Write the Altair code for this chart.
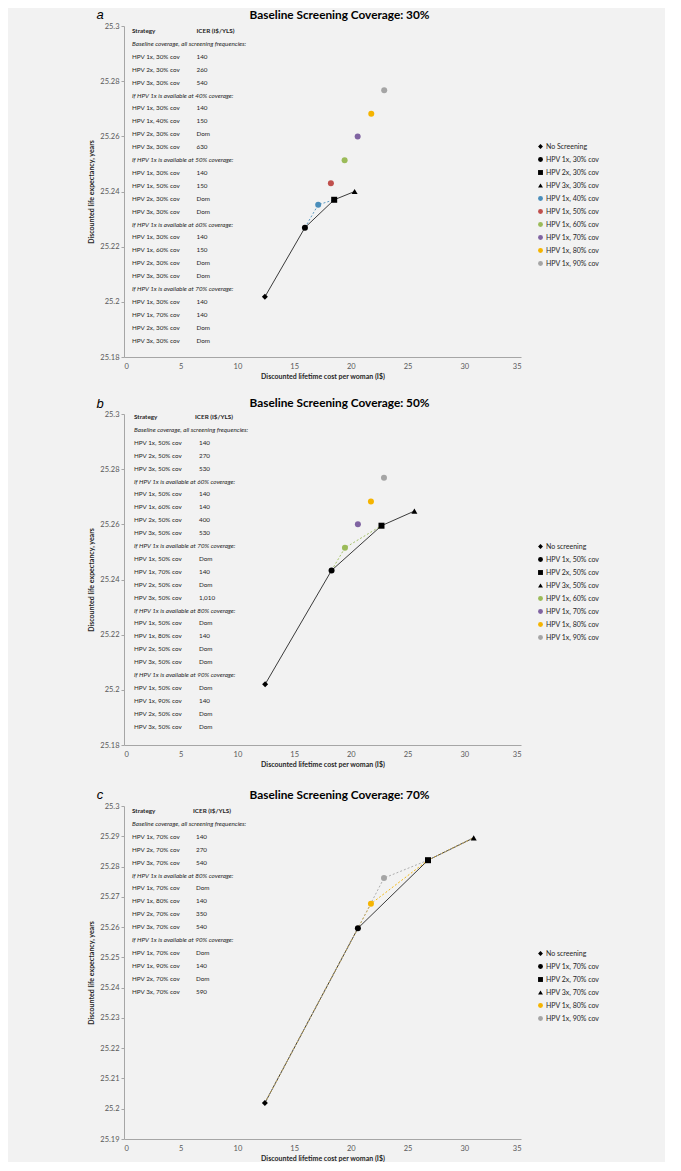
import altair as alt
import pandas as pd

FONT = "Lato"

# ---------------- Panel a: baseline coverage 30% ----------------
a_strat = ["No Screening", "HPV 1x, 30% cov", "HPV 2x, 30% cov", "HPV 3x, 30% cov",
           "HPV 1x, 40% cov", "HPV 1x, 50% cov", "HPV 1x, 60% cov", "HPV 1x, 70% cov",
           "HPV 1x, 80% cov", "HPV 1x, 90% cov"]
a_cost = [12.42, 15.95, 18.53, 20.33, 17.12, 18.24, 19.45, 20.60, 21.80, 22.94]
a_le = [25.2018, 25.2269, 25.2370, 25.2400, 25.2352, 25.2430, 25.2513, 25.2599, 25.2682, 25.2767]
a_table = [
    ("Baseline coverage, all screening frequencies:",
     [("HPV 1x, 30% cov", "140"), ("HPV 2x, 30% cov", "260"), ("HPV 3x, 30% cov", "540")]),
    ("If HPV 1x is available at 40% coverage:",
     [("HPV 1x, 30% cov", "140"), ("HPV 1x, 40% cov", "150"), ("HPV 2x, 30% cov", "Dom"), ("HPV 3x, 30% cov", "630")]),
    ("If HPV 1x is available at 50% coverage:",
     [("HPV 1x, 30% cov", "140"), ("HPV 1x, 50% cov", "150"), ("HPV 2x, 30% cov", "Dom"), ("HPV 3x, 30% cov", "Dom")]),
    ("If HPV 1x is available at 60% coverage:",
     [("HPV 1x, 30% cov", "140"), ("HPV 1x, 60% cov", "150"), ("HPV 2x, 30% cov", "Dom"), ("HPV 3x, 30% cov", "Dom")]),
    ("If HPV 1x is available at 70% coverage:",
     [("HPV 1x, 30% cov", "140"), ("HPV 1x, 70% cov", "140"), ("HPV 2x, 30% cov", "Dom"), ("HPV 3x, 30% cov", "Dom")]),
]
a_frontier = ["No Screening", "HPV 1x, 30% cov", "HPV 2x, 30% cov", "HPV 3x, 30% cov"]
a_alt = ["HPV 1x, 30% cov", "HPV 1x, 40% cov", "HPV 2x, 30% cov"]

# ---------------- Panel b: baseline coverage 50% ----------------
b_strat = ["No screening", "HPV 1x, 50% cov", "HPV 2x, 50% cov", "HPV 3x, 50% cov",
           "HPV 1x, 60% cov", "HPV 1x, 70% cov", "HPV 1x, 80% cov", "HPV 1x, 90% cov"]
b_cost = [12.44, 18.30, 22.70, 25.60, 19.48, 20.62, 21.77, 22.92]
b_le = [25.2020, 25.2433, 25.2595, 25.2648, 25.2515, 25.2600, 25.2683, 25.2769]
b_table = [
    ("Baseline coverage, all screening frequencies:",
     [("HPV 1x, 50% cov", "140"), ("HPV 2x, 50% cov", "270"), ("HPV 3x, 50% cov", "530")]),
    ("If HPV 1x is available at 60% coverage:",
     [("HPV 1x, 50% cov", "140"), ("HPV 1x, 60% cov", "140"), ("HPV 2x, 50% cov", "400"), ("HPV 3x, 50% cov", "530")]),
    ("If HPV 1x is available at 70% coverage:",
     [("HPV 1x, 50% cov", "Dom"), ("HPV 1x, 70% cov", "140"), ("HPV 2x, 50% cov", "Dom"), ("HPV 3x, 50% cov", "1,010")]),
    ("If HPV 1x is available at 80% coverage:",
     [("HPV 1x, 50% cov", "Dom"), ("HPV 1x, 80% cov", "140"), ("HPV 2x, 50% cov", "Dom"), ("HPV 3x, 50% cov", "Dom")]),
    ("If HPV 1x is available at 90% coverage:",
     [("HPV 1x, 50% cov", "Dom"), ("HPV 1x, 90% cov", "140"), ("HPV 2x, 50% cov", "Dom"), ("HPV 3x, 50% cov", "Dom")]),
]
b_frontier = ["No screening", "HPV 1x, 50% cov", "HPV 2x, 50% cov", "HPV 3x, 50% cov"]
b_alt = ["HPV 1x, 50% cov", "HPV 1x, 60% cov", "HPV 2x, 50% cov"]

# ---------------- Panel c: baseline coverage 70% ----------------
c_strat = ["No screening", "HPV 1x, 70% cov", "HPV 2x, 70% cov", "HPV 3x, 70% cov",
           "HPV 1x, 80% cov", "HPV 1x, 90% cov"]
c_cost = [12.42, 20.62, 26.80, 30.83, 21.77, 22.92]
c_le = [25.2019, 25.2596, 25.2821, 25.2895, 25.2677, 25.2762]
c_table = [
    ("Baseline coverage, all screening frequencies:",
     [("HPV 1x, 70% cov", "140"), ("HPV 2x, 70% cov", "270"), ("HPV 3x, 70% cov", "540")]),
    ("If HPV 1x is available at 80% coverage:",
     [("HPV 1x, 70% cov", "Dom"), ("HPV 1x, 80% cov", "140"), ("HPV 2x, 70% cov", "350"), ("HPV 3x, 70% cov", "540")]),
    ("If HPV 1x is available at 90% coverage:",
     [("HPV 1x, 70% cov", "Dom"), ("HPV 1x, 90% cov", "140"), ("HPV 2x, 70% cov", "Dom"), ("HPV 3x, 70% cov", "590")]),
]
c_frontier = ["No screening", "HPV 1x, 70% cov", "HPV 2x, 70% cov", "HPV 3x, 70% cov"]
c_alt80 = ["No screening", "HPV 1x, 70% cov", "HPV 1x, 80% cov", "HPV 2x, 70% cov", "HPV 3x, 70% cov"]
c_alt90 = ["No screening", "HPV 1x, 70% cov", "HPV 1x, 90% cov", "HPV 2x, 70% cov", "HPV 3x, 70% cov"]

x_ticks = [0, 5, 10, 15, 20, 25, 30, 35]
y_ticks_ab = [25.18, 25.2, 25.22, 25.24, 25.26, 25.28, 25.3]
y_ticks_c = [25.19, 25.2, 25.21, 25.22, 25.23, 25.24, 25.25, 25.26, 25.27, 25.28, 25.29, 25.3]

# ---------------- styles ----------------
BLACK = "#000000"
COL = {"40": "#4A8EBB", "50": "#C0504D", "60": "#9BBB59", "70": "#8064A2", "80": "#F5B400", "90": "#A5A5A5"}
BASE_SHAPES = ["diamond", "circle", "square", "triangle-up"]
W = 397
ROW_H = 12.9


def panel(letter, title, strat, cost, le, colors, lines, table, yticks, height,
          legend_y, tx, ticer_head, ticer_val, ttop, letter_y):
    pts = pd.DataFrame({"strategy": strat, "cost": cost, "le": le})
    xenc = alt.X("cost:Q", scale=alt.Scale(domain=[x_ticks[0], x_ticks[-1]], nice=False),
                 axis=alt.Axis(values=x_ticks, title="Discounted lifetime cost per woman (I$)",
                               ticks=False, labelPadding=5, titlePadding=3))
    yenc = alt.Y("le:Q", scale=alt.Scale(domain=[yticks[0], yticks[-1]], nice=False, zero=False),
                 axis=alt.Axis(values=yticks, format=".2~f", title="Discounted life expectancy, years",
                               tickSize=3, labelPadding=2, titlePadding=5))
    lookup = pts.set_index("strategy")
    layers = []
    for path, color, dash in lines:
        df = lookup.loc[path].reset_index()
        df["step"] = list(range(len(df)))
        mk = dict(color=color, strokeWidth=0.9)
        if dash:
            mk["strokeDash"] = dash
        layers.append(alt.Chart(df).mark_line(**mk).encode(x=xenc, y=yenc, order="step:Q"))
    shapes = BASE_SHAPES + ["circle"] * (len(strat) - 4)
    leg = alt.Legend(title=None, orient="none", legendX=413, legendY=legend_y,
                     labelFont=FONT, labelFontSize=7, labelColor="#262626",
                     symbolSize=24, rowPadding=5, padding=0, labelOffset=2,
                     symbolStrokeWidth=0)
    pt = alt.Chart(pts).mark_point(filled=True, size=36, opacity=1).encode(
        x=xenc, y=yenc,
        color=alt.Color("strategy:N", scale=alt.Scale(domain=strat, range=colors), legend=leg),
        shape=alt.Shape("strategy:N", scale=alt.Scale(domain=strat, range=shapes), legend=leg),
    )
    plot = alt.layer(*layers, pt)

    rows = [("Strategy", "ICER (I$/YLS)", "head")]
    for sec, entries in table:
        rows.append((sec, "", "sec"))
        rows += [(s, v, "row") for s, v in entries]
    tdf = pd.DataFrame(rows, columns=["left", "right", "kind"])
    tdf["row"] = list(range(len(tdf)))
    ty = alt.Y("row:Q", scale=alt.Scale(domain=[0, 1], range=[ttop, ttop + ROW_H], zero=False, nice=False),
               axis=None)
    base = alt.Chart(tdf)
    tstyle = dict(align="left", baseline="middle", font=FONT, fontSize=6.3, color="#262626")
    head_l = base.transform_filter("datum.kind == 'head'").mark_text(fontWeight="bold", **tstyle).encode(
        x=alt.value(tx), y=ty, text="left:N")
    head_r = base.transform_filter("datum.kind == 'head'").mark_text(fontWeight="bold", **tstyle).encode(
        x=alt.value(ticer_head), y=ty, text="right:N")
    sec_l = base.transform_filter("datum.kind == 'sec'").mark_text(fontStyle="italic", **tstyle).encode(
        x=alt.value(tx), y=ty, text="left:N")
    row_l = base.transform_filter("datum.kind == 'row'").mark_text(**tstyle).encode(
        x=alt.value(tx), y=ty, text="left:N")
    row_r = base.transform_filter("datum.kind == 'row'").mark_text(**tstyle).encode(
        x=alt.value(ticer_val), y=ty, text="right:N")
    let = alt.Chart(pd.DataFrame({"t": [letter]})).mark_text(
        font="Liberation Sans", fontSize=13, fontStyle="italic", color="#000000",
        align="center", baseline="middle").encode(text="t:N", x=alt.value(-24), y=alt.value(letter_y))
    ttl = alt.Chart(pd.DataFrame({"t": [title]})).mark_text(
        font=FONT, fontSize=11.8, fontWeight="bold", color="#000000",
        align="center", baseline="middle").encode(text="t:N", x=alt.value(W / 2 + 17), y=alt.value(-11.5))
    texts = alt.layer(head_l, head_r, sec_l, row_l, row_r, let, ttl)

    return alt.layer(plot, texts).resolve_scale(y="independent").properties(width=W, height=height)


pa = panel("a", "Baseline Screening Coverage: 30%", a_strat, a_cost, a_le,
           [BLACK] * 4 + [COL["40"], COL["50"], COL["60"], COL["70"], COL["80"], COL["90"]],
           [(a_frontier, "#262626", None), (a_alt, COL["40"], [2, 2])],
           a_table, y_ticks_ab, 331, 117, 8, 72.5, 72.5, 5, -11.5)
pb = panel("b", "Baseline Screening Coverage: 50%", b_strat, b_cost, b_le,
           [BLACK] * 4 + [COL["60"], COL["70"], COL["80"], COL["90"]],
           [(b_frontier, "#262626", None), (b_alt, COL["60"], [2, 2])],
           b_table, y_ticks_ab, 331, 129, 10, 71, 75, 3, -10)
pc = panel("c", "Baseline Screening Coverage: 70%", c_strat, c_cost, c_le,
           [BLACK] * 4 + [COL["80"], COL["90"]],
           [(c_frontier, "#262626", None), (c_alt80, COL["80"], [2, 2]), (c_alt90, COL["90"], [2, 2])],
           c_table, y_ticks_c, 333, 144, 8, 69, 72, 5, -11.5)

top_two = alt.vconcat(pa, pb, spacing=17).resolve_scale(color="independent", shape="independent")
chart = alt.vconcat(top_two, pc, spacing=20).resolve_scale(
    color="independent", shape="independent"
).properties(
    padding={"left": 79, "top": 0, "right": 65, "bottom": 0},
).configure(background="#f2f2f2").configure_view(stroke=None).configure_axis(
    grid=False, domainColor="#a6a6a6", tickColor="#a6a6a6", labelColor="#595959",
    labelFont=FONT, titleFont=FONT, labelFontSize=7.5, titleFontSize=7,
    titleFontWeight="bold", titleColor="#262626",
)

chart.save("out.html", embed_options={"renderer": "svg", "actions": False})
